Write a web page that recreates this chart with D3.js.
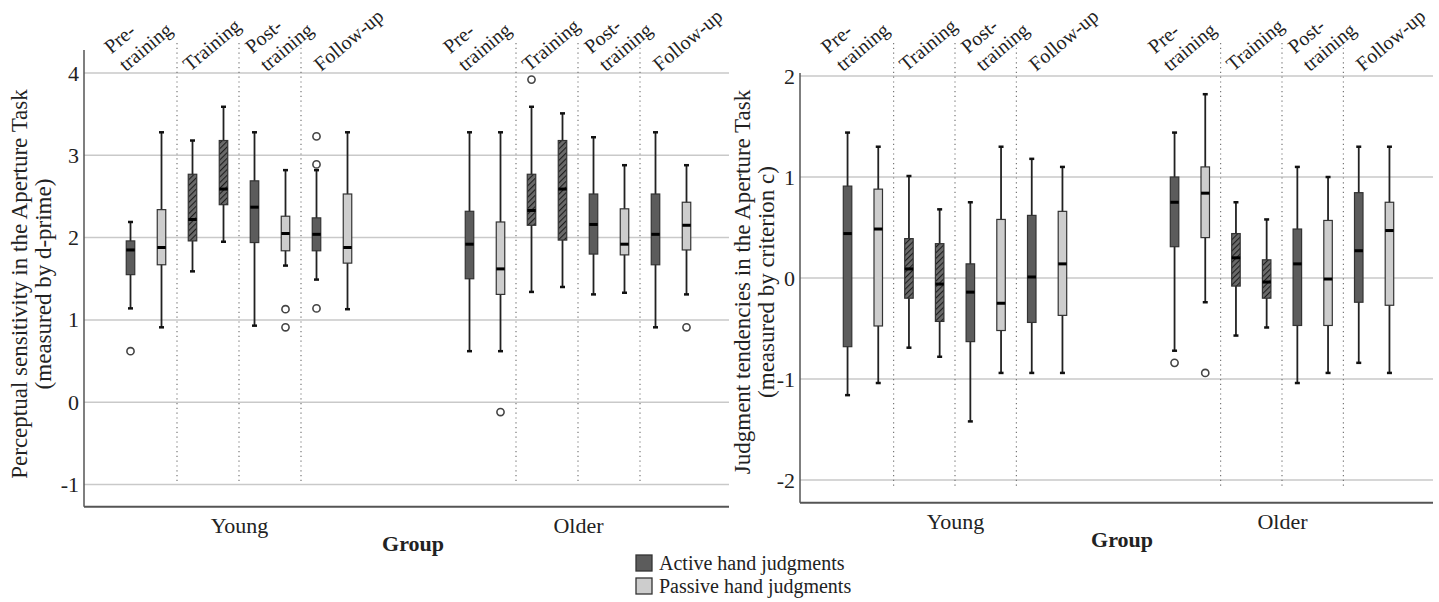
<!DOCTYPE html>
<html>
<head>
    <meta charset="utf-8">
    <script src="https://d3js.org/d3.v7.min.js"></script>
    <title>Aperture task box plots</title>
    <style>
        body { margin: 0; background: #fff; }
        svg text { font-family: "Liberation Serif", "Times New Roman", serif; fill: #222; }
    </style>
</head>
<body>
<div id="chart"></div>
<script>
    const groups = ["Young", "Older"];
    const phaseLabels = [["Pre-", "training"], ["Training"], ["Post-", "training"], ["Follow-up"]];
    const hands = ["Active hand judgments", "Passive hand judgments"];

    // each row: [lower whisker, Q1, median, Q3, upper whisker], one row per phase
    const dpYoungActive = [[1.14, 1.55, 1.85, 1.96, 2.19], [1.59, 1.96, 2.22, 2.77, 3.18], [0.93, 1.94, 2.37, 2.69, 3.28], [1.49, 1.84, 2.04, 2.24, 2.82]];
    const dpYoungPassive = [[0.91, 1.67, 1.88, 2.34, 3.28], [1.95, 2.40, 2.59, 3.18, 3.59], [1.66, 1.84, 2.05, 2.26, 2.82], [1.13, 1.69, 1.88, 2.53, 3.28]];
    const dpOlderActive = [[0.62, 1.50, 1.92, 2.32, 3.28], [1.34, 2.15, 2.33, 2.77, 3.59], [1.31, 1.80, 2.16, 2.53, 3.22], [0.91, 1.67, 2.04, 2.53, 3.28]];
    const dpOlderPassive = [[0.62, 1.31, 1.62, 2.19, 3.28], [1.40, 1.97, 2.59, 3.18, 3.51], [1.33, 1.79, 1.92, 2.35, 2.88], [1.31, 1.85, 2.15, 2.43, 2.88]];
    // outliers: [group, phase index, hand index, value]
    const dpOutliers = [["Young", 0, 0, 0.62], ["Young", 2, 1, 1.13], ["Young", 2, 1, 0.91], ["Young", 3, 0, 3.23], ["Young", 3, 0, 2.89], ["Young", 3, 0, 1.14],
        ["Older", 0, 1, -0.12], ["Older", 1, 0, 3.92], ["Older", 3, 1, 0.91]];
    const dpTicks = [-1, 0, 1, 2, 3, 4];

    const ccYoungActive = [[-1.16, -0.68, 0.44, 0.91, 1.44], [-0.69, -0.20, 0.09, 0.39, 1.01], [-1.42, -0.63, -0.14, 0.14, 0.75], [-0.94, -0.44, 0.01, 0.62, 1.18]];
    const ccYoungPassive = [[-1.04, -0.475, 0.485, 0.88, 1.30], [-0.78, -0.43, -0.06, 0.34, 0.68], [-0.94, -0.52, -0.25, 0.58, 1.30], [-0.94, -0.37, 0.14, 0.66, 1.10]];
    const ccOlderActive = [[-0.72, 0.31, 0.75, 1.00, 1.44], [-0.57, -0.08, 0.20, 0.44, 0.75], [-1.04, -0.47, 0.14, 0.485, 1.10], [-0.84, -0.24, 0.27, 0.845, 1.30]];
    const ccOlderPassive = [[-0.24, 0.40, 0.84, 1.10, 1.82], [-0.49, -0.20, -0.04, 0.18, 0.58], [-0.94, -0.47, -0.01, 0.57, 1.00], [-0.94, -0.27, 0.47, 0.75, 1.30]];
    const ccOutliers = [["Older", 0, 0, -0.84], ["Older", 0, 1, -0.94]];
    const ccTicks = [-2, -1, 0, 1, 2];

    const width = 1439, height = 602;
    const svg = d3.select("#chart").append("svg").attr("width", width).attr("height", height);

    // diagonal hatching used for the training phase
    const pat = svg.append("defs").append("pattern")
        .attr("id", "hatch").attr("patternUnits", "userSpaceOnUse")
        .attr("width", 4).attr("height", 4)
        .attr("patternTransform", "rotate(45)");
    pat.append("rect").attr("width", 4).attr("height", 4).attr("fill", "#6a6a6a");
    pat.append("line").attr("x1", 0).attr("y1", 0).attr("x2", 0).attr("y2", 4)
        .attr("stroke", "#1e1e1e").attr("stroke-width", 2.2);

    const handFill = ["#5c5c5c", "#cdcdcd"];
    const labelOffsets = [-20, -18, -3, -11];

    function drawPanel(cfg) {
        const g = svg.append("g");
        const y = d3.scaleLinear().domain(cfg.domain).range([cfg.bottom, cfg.top]);
        const x = d3.scalePoint().domain(groups).range([cfg.left + 155, cfg.right - 151]);
        // 8 slots inside a group: phase * 2 + hand
        const inner = d3.scaleBand().domain(d3.range(8)).range([-cfg.slot * 4, cfg.slot * 4]);
        const slotX = (grp, p, h) => x(grp) + inner(p * 2 + h) + inner.bandwidth() / 2;

        // gridlines
        g.selectAll(".grid").data(cfg.ticks).join("line")
            .attr("x1", cfg.left).attr("x2", cfg.right)
            .attr("y1", d => y(d)).attr("y2", d => y(d))
            .attr("stroke", "#c9c9c9").attr("stroke-width", 1.5);

        // y tick labels
        const ya = g.append("g").attr("transform", `translate(${cfg.left},0)`)
            .call(d3.axisLeft(y).tickValues(cfg.ticks).tickSize(0).tickPadding(5).tickFormat(d => String(d)));
        ya.select(".domain").remove();
        ya.selectAll("text").style("font-size", "22px").style("font-family", "Liberation Serif, serif").attr("fill", "#222");

        // axis lines
        g.append("line").attr("x1", cfg.left).attr("x2", cfg.left).attr("y1", cfg.top).attr("y2", cfg.bottom)
            .attr("stroke", "#555").attr("stroke-width", 1.5);
        g.append("line").attr("x1", cfg.left).attr("x2", cfg.right).attr("y1", cfg.bottom).attr("y2", cfg.bottom)
            .attr("stroke", "#555").attr("stroke-width", 2);

        // dotted phase dividers and rotated phase labels
        groups.forEach(grp => {
            [1, 2, 3].forEach(p => {
                const dx = x(grp) + inner(p * 2);
                g.append("line").attr("x1", dx).attr("x2", dx)
                    .attr("y1", 43).attr("y2", y(cfg.ticks[0]) + cfg.divExtra)
                    .attr("stroke", "#777").attr("stroke-width", 1.2)
                    .attr("stroke-dasharray", "1.2,3.6");
            });
            phaseLabels.forEach((lines, p) => {
                const cx = (slotX(grp, p, 0) + slotX(grp, p, 1)) / 2 + labelOffsets[p];
                const t = g.append("text")
                    .attr("transform", `translate(${cx},72) rotate(-40)`)
                    .style("font-size", "20px");
                lines.forEach((ln, i) => {
                    t.append("tspan").attr("x", 0).attr("y", (i - (lines.length - 1)) * 23).text(ln);
                });
            });
        });

        // boxes
        const series = [[cfg.data.YoungActive, cfg.data.YoungPassive], [cfg.data.OlderActive, cfg.data.OlderPassive]];
        groups.forEach((grp, gi) => {
            series[gi].forEach((rows, h) => {
                rows.forEach((s, p) => {
                    const cx = slotX(grp, p, h);
                    const bw = 8.5;
                    const fill = p === 1 ? "url(#hatch)" : handFill[h];
                    g.append("line").attr("x1", cx).attr("x2", cx).attr("y1", y(s[0])).attr("y2", y(s[4]))
                        .attr("stroke", "#222").attr("stroke-width", 1.8);
                    [s[0], s[4]].forEach(v => {
                        g.append("line").attr("x1", cx - 2.5).attr("x2", cx + 2.5).attr("y1", y(v)).attr("y2", y(v))
                            .attr("stroke", "#111").attr("stroke-width", 2.5);
                    });
                    g.append("rect").attr("x", cx - bw / 2).attr("width", bw)
                        .attr("y", y(s[3])).attr("height", y(s[1]) - y(s[3]))
                        .attr("fill", fill).attr("stroke", "#333").attr("stroke-width", 1.2);
                    g.append("line").attr("x1", cx - bw / 2).attr("x2", cx + bw / 2).attr("y1", y(s[2])).attr("y2", y(s[2]))
                        .attr("stroke", "#000").attr("stroke-width", 3);
                });
            });
        });

        // outliers
        g.selectAll(".out").data(cfg.outliers).join("circle")
            .attr("cx", d => slotX(d[0], d[1], d[2]))
            .attr("cy", d => y(d[3]))
            .attr("r", 3.6).attr("fill", "#fff").attr("stroke", "#444").attr("stroke-width", 1.6);

        // group axis labels
        const xa = g.append("g").attr("transform", `translate(0,${cfg.bottom})`)
            .call(d3.axisBottom(x).tickSize(0));
        xa.select(".domain").remove();
        xa.selectAll("text").attr("y", 26).attr("dy", 0)
            .style("font-size", "22px").style("font-family", "Liberation Serif, serif").attr("fill", "#222");

        g.append("text").attr("x", cfg.groupTitleX).attr("y", cfg.bottom + 44)
            .attr("text-anchor", "middle").style("font-size", "22px").style("font-weight", "bold")
            .text("Group");

        // y title, two lines
        const yt = g.append("text").attr("transform", `translate(${cfg.titleX},${cfg.titleY}) rotate(-90)`)
            .attr("text-anchor", "middle").style("font-size", "23px");
        cfg.title.forEach((ln, i) => yt.append("tspan").attr("x", 0).attr("y", i * 24).text(ln));
    }

    drawPanel({
        left: 84, right: 729, top: 50, bottom: 506.7, domain: [-1.27, 4.28], ticks: dpTicks, slot: 31,
        divExtra: 0, groupTitleX: 413, titleX: 27, titleY: 284,
        title: ["Perceptual sensitivity in the Aperture Task", "(measured by d-prime)"],
        data: { YoungActive: dpYoungActive, YoungPassive: dpYoungPassive, OlderActive: dpOlderActive, OlderPassive: dpOlderPassive },
        outliers: dpOutliers
    });

    drawPanel({
        left: 800, right: 1433, top: 73, bottom: 502.7, domain: [-2.225, 2.03], ticks: ccTicks, slot: 30.7,
        divExtra: 6, groupTitleX: 1122, titleX: 750, titleY: 282,
        title: ["Judgment tendencies in the Aperture Task", "(measured by criterion c)"],
        data: { YoungActive: ccYoungActive, YoungPassive: ccYoungPassive, OlderActive: ccOlderActive, OlderPassive: ccOlderPassive },
        outliers: ccOutliers
    });

    // legend
    const legend = svg.append("g");
    hands.forEach((h, i) => {
        legend.append("rect").attr("x", 636).attr("y", 555 + i * 23).attr("width", 16).attr("height", 16)
            .attr("fill", handFill[i]).attr("stroke", "#333").attr("stroke-width", 1.3);
        legend.append("text").attr("x", 659).attr("y", 570 + i * 23).style("font-size", "20px").text(h);
    });
</script>
</body>
</html>
